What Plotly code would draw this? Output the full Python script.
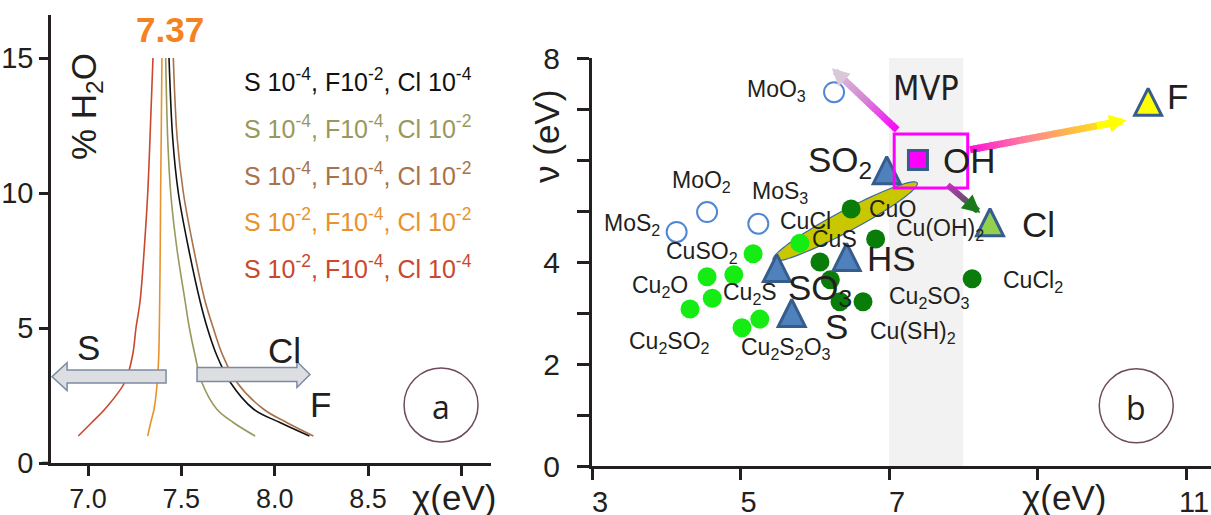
import numpy as np
import plotly.graph_objects as go

W, H = 1211, 515
FONT = "Liberation Sans, Arial, Helvetica, sans-serif"
INK = "#231f20"

# ---------------- panel (a): % H2O against chi for five S/F/Cl compositions
h2o = [1, 1.5, 2, 3, 4, 5, 6, 8, 10, 12, 15]
chi_black = [8.186, 8.028, 7.886, 7.761, 7.689, 7.639, 7.600, 7.537, 7.484, 7.454, 7.434]
chi_olive = [7.895, 7.778, 7.689, 7.609, 7.573, 7.543, 7.520, 7.475, 7.443, 7.427, 7.416]
chi_brown = [8.207, 8.064, 7.939, 7.796, 7.721, 7.671, 7.627, 7.564, 7.511, 7.478, 7.457]
chi_orange = [7.320, 7.336, 7.354, 7.371, 7.379, 7.382, 7.384, 7.387, 7.389, 7.392, 7.396]
chi_red = [6.948, 7.020, 7.091, 7.198, 7.239, 7.257, 7.279, 7.302, 7.320, 7.332, 7.348]

series_a = [
    ("S 10<sup>-4</sup>, F10<sup>-2</sup>, Cl 10<sup>-4</sup>", chi_black, "#111111"),
    ("S 10<sup>-4</sup>, F10<sup>-4</sup>, Cl 10<sup>-2</sup>", chi_olive, "#98985c"),
    ("S 10<sup>-4</sup>, F10<sup>-4</sup>, Cl 10<sup>-2</sup>", chi_brown, "#a8724a"),
    ("S 10<sup>-2</sup>, F10<sup>-4</sup>, Cl 10<sup>-2</sup>", chi_orange, "#e8922e"),
    ("S 10<sup>-2</sup>, F10<sup>-4</sup>, Cl 10<sup>-4</sup>", chi_red, "#c9482e"),
]
a_xticks = [7.0, 7.5, 8.0, 8.5, 9.0]
a_xticktext = ["7.0", "7.5", "8.0", "8.5", ""]
a_yticks = [0, 5, 10, 15]

# ---------------- panel (b): hardness nu against electronegativity chi
mo_x = [4.14, 4.55, 5.24, 6.26]          # MoS2, MoO2, MoS3, MoO3
mo_y = [4.59, 4.98, 4.75, 7.33]
lg_x = [5.17, 5.80, 4.55, 4.91, 4.62, 4.32, 5.26, 5.02]
lg_y = [4.16, 4.37, 3.71, 3.75, 3.29, 3.08, 2.88, 2.71]
dg_x = [6.49, 6.82, 6.07, 6.21, 6.34, 6.65, 8.12]
dg_y = [5.04, 4.45, 4.00, 3.65, 3.22, 3.22, 3.67]
tri_names = ["CO", "SO2", "SO3", "HS", "S", "Cl", "F"]
tri_x = [6.08, 6.97, 5.49, 6.43, 5.69, 8.36, 10.49]
tri_y = [8.12, 5.80, 3.88, 4.10, 3.00, 4.78, 7.14]
tri_fill = ["#bfbfbf", "#4f81bd", "#4f81bd", "#4f81bd", "#4f81bd", "#92d050", "#ffff00"]
oh_x, oh_y = [7.39], [6.0]

small_labels = [
    ("MoO<sub>3</sub>", 5.49, 7.37), ("MoO<sub>2</sub>", 4.48, 5.57),
    ("MoS<sub>3</sub>", 5.53, 5.37), ("MoS<sub>2</sub>", 3.54, 4.73),
    ("CuCl", 5.87, 4.80), ("CuSO<sub>2</sub>", 4.48, 4.18),
    ("CuS", 6.26, 4.45), ("CuO", 7.05, 5.04),
    ("Cu<sub>2</sub>O", 3.92, 3.51), ("Cu<sub>2</sub>S", 5.13, 3.39),
    ("Cu<sub>2</sub>SO<sub>2</sub>", 4.05, 2.43), ("Cu<sub>2</sub>S<sub>2</sub>O<sub>3</sub>", 5.61, 2.31),
    ("Cu(OH)<sub>2</sub>", 7.69, 4.63), ("Cu<sub>2</sub>SO<sub>3</sub>", 7.54, 3.31),
    ("Cu(SH)<sub>2</sub>", 7.32, 2.61), ("CuCl<sub>2</sub>", 8.94, 3.61),
]
big_labels = [
    ("CO", 5.52, 8.20), ("SO<sub>2</sub>", 6.34, 5.96), ("OH", 8.09, 6.0),
    ("HS", 7.04, 4.06), ("SO<sub>3</sub>", 6.07, 3.45), ("S", 6.29, 2.73),
    ("Cl", 9.01, 4.73), ("F", 10.88, 7.24),
]
b_xticks = [3, 5, 7, 9, 11]
b_xticktext = ["3", "5", "7", "", "11"]
b_yticks = list(range(0, 9))
b_yticktext = ["0", "", "2", "", "4", "", "", "", "8"]

# ---------------- layout geometry (pixels)
A_L, A_R, A_B, A_T = 51, 491, 463, 15
B_L, B_R, B_B, B_T = 592, 1211, 466, 58
a_xr = [7.0 - (88 - A_L) / 186.7, 7.0 + (A_R - 88) / 186.7]
a_yr = [0, (A_B - A_T) / 27.0]
b_xr = [3, 3 + (B_R - B_L) / 74.25]
b_yr = [0, 8]
bx_px = (B_R - B_L) / (b_xr[1] - b_xr[0])     # pixels per chi unit
by_px = (B_B - B_T) / (b_yr[1] - b_yr[0])     # pixels per nu unit
ax_px = (A_R - A_L) / (a_xr[1] - a_xr[0])
ay_px = (A_B - A_T) / (a_yr[1] - a_yr[0])


def paper(px, py):
    return px / W, 1 - py / H


def label(text, x, y, size, xref="paper", yref="paper", color=INK, family=FONT, **kw):
    d = dict(x=x, y=y, xref=xref, yref=yref, text=text, showarrow=False,
             xanchor="center", yanchor="middle", font=dict(family=family, size=size, color=color))
    d.update(kw)
    return d


fig = go.Figure()

for name, xs, col in series_a:
    fig.add_trace(go.Scatter(x=xs, y=h2o, mode="lines", line=dict(color=col, width=1.6, shape="spline"),
                             xaxis="x", yaxis="y", showlegend=False, hoverinfo="skip"))

fig.add_trace(go.Scatter(x=mo_x, y=mo_y, mode="markers", xaxis="x2", yaxis="y2",
                         marker=dict(symbol="circle-open", size=20, color="#4f86d6", line=dict(width=2)),
                         showlegend=False, cliponaxis=False))
fig.add_trace(go.Scatter(x=lg_x, y=lg_y, mode="markers", xaxis="x2", yaxis="y2",
                         marker=dict(symbol="circle", size=19, color="#14ec14"),
                         showlegend=False, cliponaxis=False))
fig.add_trace(go.Scatter(x=dg_x, y=dg_y, mode="markers", xaxis="x2", yaxis="y2",
                         marker=dict(symbol="circle", size=19, color="#0a7c0a"),
                         showlegend=False, cliponaxis=False))
# arrow-up puts the apex on the point, so lift it by half its height to centre it
TRI = 27
fig.add_trace(go.Scatter(x=tri_x, y=[v + (TRI / 2) / by_px for v in tri_y], mode="markers",
                         xaxis="x2", yaxis="y2", text=tri_names,
                         marker=dict(symbol="arrow-up", size=TRI, color=tri_fill,
                                     line=dict(color="#375d8c", width=3)),
                         showlegend=False, cliponaxis=False))
fig.add_trace(go.Scatter(x=oh_x, y=oh_y, mode="markers", xaxis="x2", yaxis="y2",
                         marker=dict(symbol="square", size=19, color="#ff00ff",
                                     line=dict(color="#375d8c", width=3)),
                         showlegend=False, cliponaxis=False))

shapes = []
annotations = []

# MVP band and the elongated ellipse along the Cu compounds
shapes.append(dict(type="rect", xref="x2", yref="y2", x0=7, x1=8, y0=0, y1=8,
                   fillcolor="#f2f2f2", line=dict(width=0), layer="below"))


def ellipse_path(p0, p1, half_w_px):
    (x0, y0), (x1, y1) = p0, p1
    X0, Y0 = x0 * bx_px, y0 * by_px
    X1, Y1 = x1 * bx_px, y1 * by_px
    cx, cy = (X0 + X1) / 2, (Y0 + Y1) / 2
    a = np.hypot(X1 - X0, Y1 - Y0) / 2
    ang = np.arctan2(Y1 - Y0, X1 - X0)
    t = np.linspace(0, 2 * np.pi, 90)
    ex = cx + a * np.cos(t) * np.cos(ang) - half_w_px * np.sin(t) * np.sin(ang)
    ey = cy + a * np.cos(t) * np.sin(ang) + half_w_px * np.sin(t) * np.cos(ang)
    pts = [f"{u / bx_px:.4f},{v / by_px:.4f}" for u, v in zip(ex, ey)]
    return "M" + " L".join(pts) + " Z"


shapes.append(dict(type="path", xref="x2", yref="y2", path=ellipse_path((5.44, 4.04), (7.38, 5.55), 10.5),
                   fillcolor="#c9c800", line=dict(color="#3b6aa0", width=1.2), layer="below"))

# box around OH
shapes.append(dict(type="rect", xref="x2", yref="y2", x0=7.07, x1=8.06, y0=5.45, y1=6.51,
                   line=dict(color="#ff00ff", width=3), fillcolor="rgba(0,0,0,0)"))


def lerp_color(stops, f):
    n = len(stops) - 1
    i = min(int(f * n), n - 1)
    g = f * n - i
    c0 = [int(stops[i][k:k + 2], 16) for k in (1, 3, 5)]
    c1 = [int(stops[i + 1][k:k + 2], 16) for k in (1, 3, 5)]
    return "rgb(%d,%d,%d)" % tuple(round(a + (b - a) * g) for a, b in zip(c0, c1))


def gradient_arrow(p0, p1, stops, width, head=0.55, n=36):
    (x0, y0), (x1, y1) = p0, p1
    stop_f = 0.92
    for i in range(n):
        f0, f1 = i / n * stop_f, (i + 1) / n * stop_f
        shapes.append(dict(type="line", xref="x2", yref="y2",
                           x0=x0 + (x1 - x0) * f0, y0=y0 + (y1 - y0) * f0,
                           x1=x0 + (x1 - x0) * (f1 + 0.01), y1=y0 + (y1 - y0) * (f1 + 0.01),
                           line=dict(color=lerp_color(stops, (f0 + f1) / 2), width=width)))
    annotations.append(dict(x=x1, y=y1, ax=x0 + (x1 - x0) * 0.8, ay=y0 + (y1 - y0) * 0.8,
                            xref="x2", yref="y2", axref="x2", ayref="y2", text="",
                            showarrow=True, arrowhead=2, arrowsize=head, arrowwidth=width,
                            arrowcolor=lerp_color(stops, 1.0)))


gradient_arrow((7.11, 6.59), (6.23, 7.80), ["#ff00ff", "#d487d4", "#d9c8d9"], 7, head=0.5)
gradient_arrow((8.09, 6.20), (10.20, 6.78), ["#ff10d8", "#ff7aa0", "#ffbf40", "#ffff00"], 7, head=0.5)
gradient_arrow((7.79, 5.51), (8.23, 4.96), ["#c030c0", "#6a4a6a", "#1a7a1a"], 6, head=0.6)

# circled panel letters
for xr, yr, cx, cy, rx, ry in [("x", "y", 8.891, 2.15, 37 / ax_px, 37 / ay_px),
                               ("x2", "y2", 10.33, 1.18, 37 / bx_px, 37 / by_px)]:
    shapes.append(dict(type="circle", xref=xr, yref=yr, x0=cx - rx, x1=cx + rx, y0=cy - ry, y1=cy + ry,
                       line=dict(color="#6e4a5e", width=1.5)))
annotations.append(label("a", 8.891, 2.1, 32, xref="x", yref="y", family="Open Sans, " + FONT))
annotations.append(label("b", 10.33, 1.15, 32, xref="x2", yref="y2", family="Open Sans, " + FONT))


# block arrows in panel (a) showing the direction of S and of Cl/F
def block_arrow(x_tail, x_base, x_tip, yc, half_body, half_head):
    return (f"M{x_tail},{yc - half_body} L{x_base},{yc - half_body} L{x_base},{yc - half_head} "
            f"L{x_tip},{yc} L{x_base},{yc + half_head} L{x_base},{yc + half_body} "
            f"L{x_tail},{yc + half_body} Z")


shapes.append(dict(type="path", xref="x", yref="y",
                   path=block_arrow(7.418, 6.888, 6.807, 3.20, 6.5 / ay_px, 14 / ay_px),
                   fillcolor="#dcdee2", line=dict(color="#7b8ca5", width=1.5)))
shapes.append(dict(type="path", xref="x", yref="y",
                   path=block_arrow(7.584, 8.119, 8.189, 3.28, 7 / ay_px, 13 / ay_px),
                   fillcolor="#dcdee2", line=dict(color="#7b8ca5", width=1.5)))

# short stub of the panel (a) x axis to the left of its y axis
x0p, y0p = paper(42, A_B)
x1p, _ = paper(A_L, A_B)
shapes.append(dict(type="line", xref="paper", yref="paper", x0=x0p, x1=x1p, y0=y0p, y1=y0p,
                   line=dict(color=INK, width=2.5)))

# panel (a) texts
for i, (name, xs, col) in enumerate(series_a):
    px, py = paper(242, 80 + 46.8 * i)
    annotations.append(label(name, px, py, 25, color=col, xanchor="left"))
annotations.append(label("<b>7.37</b>", *paper(170, 30), 35, color="#f58220"))
annotations.append(label("% H<sub>2</sub>O", *paper(86, 107), 35, textangle=-90))
for t, cx, cy in [("S", 88, 347), ("Cl", 284, 350), ("F", 320, 404)]:
    annotations.append(label(t, *paper(cx, cy), 35))
for cx in (454, 1064):
    annotations.append(label("χ(eV)", *paper(cx, 497), 35))
annotations.append(label("ν (eV)", *paper(546, 137), 35, textangle=-90))

# panel (b) texts
for t, x, y in small_labels:
    annotations.append(label(t, x, y, 23, xref="x2", yref="y2"))
for t, x, y in big_labels:
    annotations.append(label(t, x, y, 35, xref="x2", yref="y2"))
annotations.append(label("MVP", 7.5, 7.41, 34, xref="x2", yref="y2",
                         family="Liberation Sans Narrow, DejaVu Sans Condensed, " + FONT))

axis_common = dict(showgrid=False, zeroline=False, showline=True, linecolor=INK, ticks="outside",
                   tickcolor=INK, automargin=False, fixedrange=True)

fig.update_layout(
    width=W, height=H, margin=dict(l=0, r=0, t=0, b=0, pad=0, autoexpand=False),
    paper_bgcolor="white", plot_bgcolor="rgba(0,0,0,0)", showlegend=False,
    xaxis=dict(axis_common, domain=[A_L / W, A_R / W], range=a_xr, anchor="y",
               tickvals=a_xticks, ticktext=a_xticktext, linewidth=2.5, tickwidth=2.5, ticklen=10,
               tickfont=dict(family=FONT, size=27, color=INK), ticklabelstandoff=0),
    yaxis=dict(axis_common, domain=[1 - A_B / H, 1 - A_T / H], range=a_yr, anchor="x",
               tickvals=a_yticks, linewidth=2.5, tickwidth=2.5, ticklen=9,
               tickfont=dict(family=FONT, size=29, color=INK), ticklabelstandoff=0),
    xaxis2=dict(axis_common, domain=[B_L / W, B_R / W], range=b_xr, anchor="y2",
                tickvals=b_xticks, ticktext=b_xticktext, linewidth=3, tickwidth=3, ticklen=11,
                tickfont=dict(family=FONT, size=29, color=INK), ticklabelstandoff=-3,
                ticklabelshift=8),
    yaxis2=dict(axis_common, domain=[1 - B_B / H, 1 - B_T / H], range=b_yr, anchor="x2",
                tickvals=b_yticks, ticktext=b_yticktext, linewidth=3, tickwidth=3, ticklen=12,
                tickfont=dict(family=FONT, size=30, color=INK), ticklabelstandoff=11),
    shapes=shapes, annotations=annotations,
)

fig.write_html("out.html")
